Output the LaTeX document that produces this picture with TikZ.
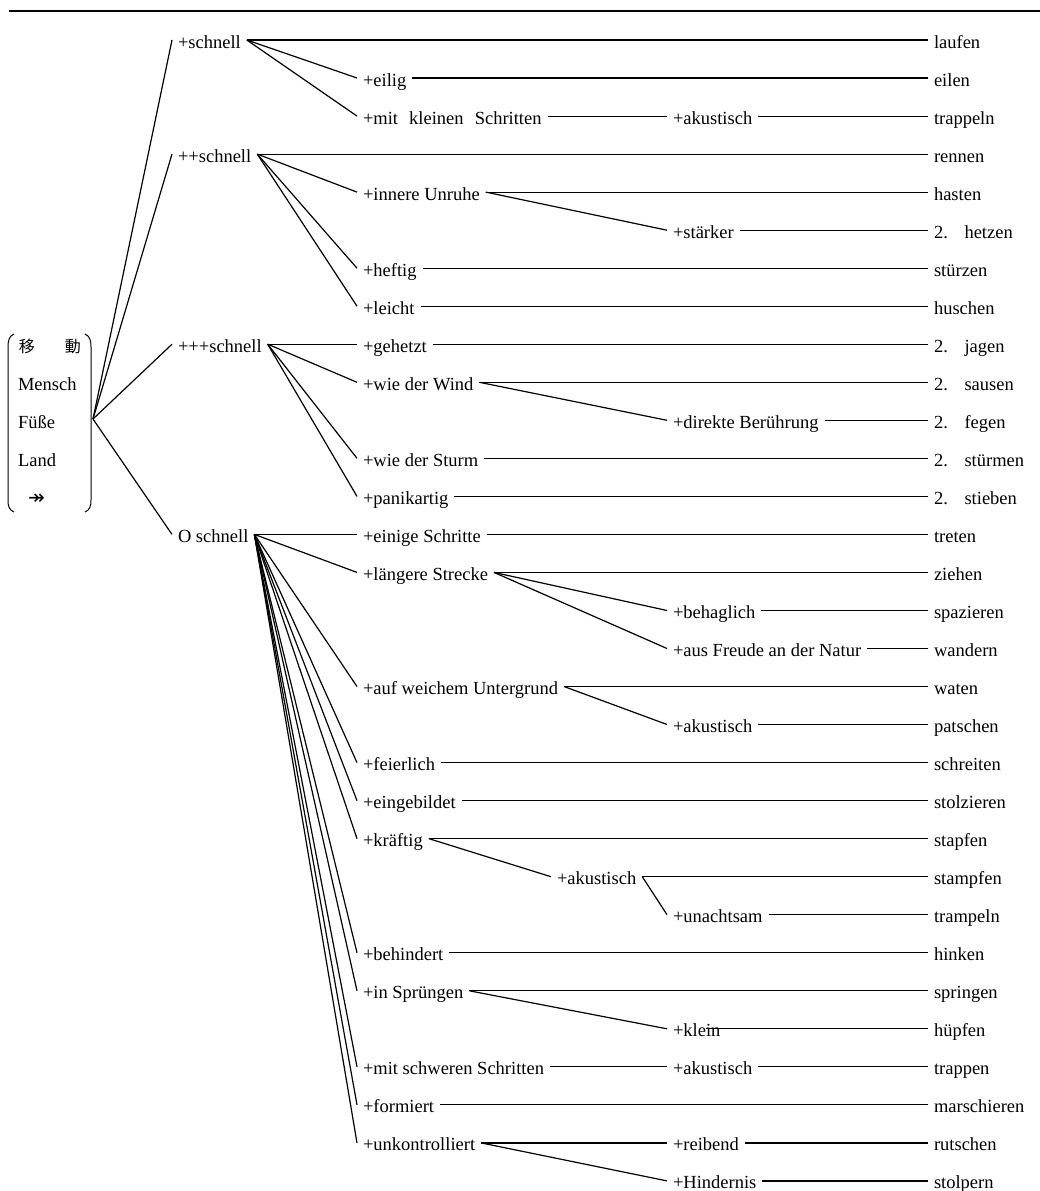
\documentclass[tikz,border=0pt]{standalone}
\usepackage{fontspec}
\setmainfont{Liberation Serif}
\newfontfamily\cjk{Noto Sans CJK JP}
\newfontfamily\djv{DejaVu Sans}
\newcommand\fsz{\fontsize{18.5}{20}\selectfont}
\begin{document}
\begin{tikzpicture}[x=1pt,y=-1pt,line width=1.2pt,
  lbl/.style={anchor=west,inner xsep=0pt,inner ysep=0pt,outer xsep=6pt,outer ysep=0pt,
              text height=16pt,text depth=0pt,font=\fsz},
  btxt/.style={lbl,outer xsep=0pt},
  brk/.style={line width=1pt},
  rule/.style={line width=2pt}]
\useasboundingbox (0,0) rectangle (1040,1191);
\draw[rule] (9,11) -- (1040,11);
% bracket
\draw[brk] (14,334) .. controls (9,336) and (8,341) .. (8,347) -- (8,500) .. controls (8,506) and (9,510) .. (14,512);
\draw[brk] (85,334) .. controls (90,336) and (91,341) .. (91,347) -- (91,500) .. controls (91,506) and (90,510) .. (85,512);
\node[btxt,font=\cjk\fontsize{16}{17}\selectfont] (b1) at (19,344.2) {移\hspace{30pt}動};
\node[btxt] (b2) at (18,382.3) {Mensch};
\node[btxt] (b3) at (18,420.3) {Füße};
\node[btxt] (b4) at (18,458.3) {Land};
\node[btxt,font=\djv\fontsize{20}{21}\selectfont] (b5) at (28,496.4) {↠};
\coordinate (root) at (93,419);
% level 1
\node[lbl] (s1) at (172,40.0) {+schnell};
\node[lbl] (s2) at (172,154.1) {++schnell};
\node[lbl] (s3) at (172,344.2) {+++schnell};
\node[lbl] (s0) at (172,534.4) {O schnell};
% level 2
\node[lbl] (eilig) at (357,78.0) {+eilig};
\node[lbl] (mks) at (357,116.1) {+mit\hspace{0.6em}kleinen\hspace{0.6em}Schritten};
\node[lbl] (unruhe) at (357,192.1) {+innere Unruhe};
\node[lbl] (heftig) at (357,268.2) {+heftig};
\node[lbl] (leicht) at (357,306.2) {+leicht};
\node[lbl] (gehetzt) at (357,344.2) {+gehetzt};
\node[lbl] (wind) at (357,382.3) {+wie der Wind};
\node[lbl] (sturm) at (357,458.3) {+wie der Sturm};
\node[lbl] (panik) at (357,496.4) {+panikartig};
\node[lbl] (einige) at (357,534.4) {+einige Schritte};
\node[lbl] (laengere) at (357,572.4) {+längere Strecke};
\node[lbl] (weich) at (357,686.5) {+auf weichem Untergrund};
\node[lbl] (feierlich) at (357,762.6) {+feierlich};
\node[lbl] (eingebildet) at (357,800.6) {+eingebildet};
\node[lbl] (kraeftig) at (357,838.6) {+kräftig};
\node[lbl] (behindert) at (357,952.7) {+behindert};
\node[lbl] (spruenge) at (357,990.8) {+in Sprüngen};
\node[lbl] (schwer) at (357,1066.8) {+mit schweren Schritten};
\node[lbl] (formiert) at (357,1104.8) {+formiert};
\node[lbl] (unkontr) at (357,1142.9) {+unkontrolliert};
% level 3
\node[lbl] (ak1) at (667,116.1) {+akustisch};
\node[lbl] (staerker) at (667,230.2) {+stärker};
\node[lbl] (direkt) at (667,420.3) {+direkte Berührung};
\node[lbl] (behaglich) at (667,610.5) {+behaglich};
\node[lbl] (freude) at (667,648.5) {+aus Freude an der Natur};
\node[lbl] (ak2) at (667,724.5) {+akustisch};
\node[lbl] (ak3) at (551,876.7) {+akustisch};
\node[lbl] (unachtsam) at (667,914.7) {+unachtsam};
\node[lbl] (klein) at (667,1028.8) {+klein};
\node[lbl] (ak4) at (667,1066.8) {+akustisch};
\node[lbl] (reibend) at (667,1142.9) {+reibend};
\node[lbl] (hindernis) at (667,1180.9) {+Hindernis};
% final words
\node[lbl] (f0) at (928,40.0) {laufen};
\node[lbl] (f1) at (928,78.0) {eilen};
\node[lbl] (f2) at (928,116.1) {trappeln};
\node[lbl] (f3) at (928,154.1) {rennen};
\node[lbl] (f4) at (928,192.1) {hasten};
\node[lbl] (f5) at (928,230.2) {2.\hspace{0.9em}hetzen};
\node[lbl] (f6) at (928,268.2) {stürzen};
\node[lbl] (f7) at (928,306.2) {huschen};
\node[lbl] (f8) at (928,344.2) {2.\hspace{0.9em}jagen};
\node[lbl] (f9) at (928,382.3) {2.\hspace{0.9em}sausen};
\node[lbl] (f10) at (928,420.3) {2.\hspace{0.9em}fegen};
\node[lbl] (f11) at (928,458.3) {2.\hspace{0.9em}stürmen};
\node[lbl] (f12) at (928,496.4) {2.\hspace{0.9em}stieben};
\node[lbl] (f13) at (928,534.4) {treten};
\node[lbl] (f14) at (928,572.4) {ziehen};
\node[lbl] (f15) at (928,610.5) {spazieren};
\node[lbl] (f16) at (928,648.5) {wandern};
\node[lbl] (f17) at (928,686.5) {waten};
\node[lbl] (f18) at (928,724.5) {patschen};
\node[lbl] (f19) at (928,762.6) {schreiten};
\node[lbl] (f20) at (928,800.6) {stolzieren};
\node[lbl] (f21) at (928,838.6) {stapfen};
\node[lbl] (f22) at (928,876.7) {stampfen};
\node[lbl] (f23) at (928,914.7) {trampeln};
\node[lbl] (f24) at (928,952.7) {hinken};
\node[lbl] (f25) at (928,990.8) {springen};
\node[lbl] (f26) at (928,1028.8) {hüpfen};
\node[lbl] (f27) at (928,1066.8) {trappen};
\node[lbl] (f28) at (928,1104.8) {marschieren};
\node[lbl] (f29) at (928,1142.9) {rutschen};
\node[lbl] (f30) at (928,1180.9) {stolpern};
% connectors
\foreach \b in {s1,s2,s3,s0} \draw (root) -- (\b.west);
\foreach \a/\b in {s1/f0,s1/eilig,s1/mks,eilig/f1,mks/ak1,ak1/f2,
  s2/f3,s2/unruhe,s2/heftig,s2/leicht,unruhe/f4,unruhe/staerker,staerker/f5,heftig/f6,leicht/f7,
  s3/gehetzt,s3/wind,s3/sturm,s3/panik,gehetzt/f8,wind/f9,wind/direkt,direkt/f10,sturm/f11,panik/f12,
  s0/einige,s0/laengere,s0/weich,s0/feierlich,s0/eingebildet,s0/kraeftig,s0/behindert,s0/spruenge,
  s0/schwer,s0/formiert,s0/unkontr,
  einige/f13,laengere/f14,laengere/behaglich,laengere/freude,behaglich/f15,freude/f16,
  weich/f17,weich/ak2,ak2/f18,feierlich/f19,eingebildet/f20,kraeftig/f21,kraeftig/ak3,
  ak3/f22,ak3/unachtsam,unachtsam/f23,behindert/f24,spruenge/f25,spruenge/klein,
  schwer/ak4,ak4/f27,formiert/f28,unkontr/reibend,unkontr/hindernis,reibend/f29,hindernis/f30}
  \draw (\a.east) -- (\b.west);
\draw ([xshift=-20pt]klein.east) -- (f26.west);
\end{tikzpicture}
\end{document}
